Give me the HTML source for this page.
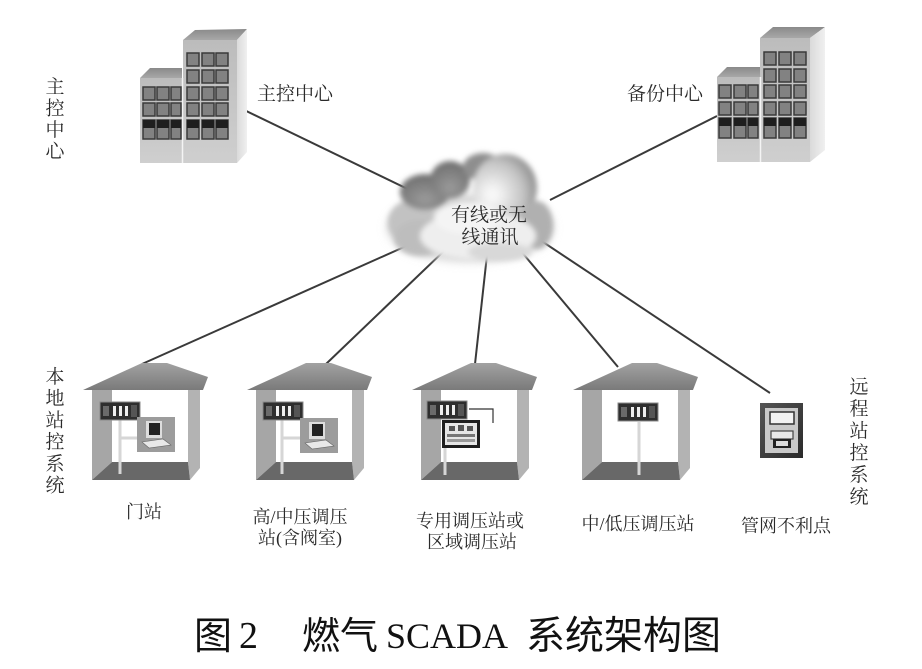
<!DOCTYPE html>
<html><head><meta charset="utf-8">
<style>
html,body{margin:0;padding:0;background:#fff;}
svg{display:block;}
.lb{font-family:"Liberation Serif","Noto Serif CJK SC",serif;font-size:18px;fill:#2a2a2a;}
.vl{font-family:"Liberation Serif","Noto Serif CJK SC",serif;font-size:19px;fill:#2a2a2a;}
</style></head><body>
<svg width="922" height="669" viewBox="0 0 922 669" xmlns="http://www.w3.org/2000/svg">
<defs>
 <filter id="blur" x="-30%" y="-30%" width="160%" height="160%"><feGaussianBlur stdDeviation="2.6"/></filter>
 <filter id="blur2" x="-30%" y="-30%" width="160%" height="160%"><feGaussianBlur stdDeviation="5"/></filter>
 <linearGradient id="roof" x1="0" y1="0" x2="0" y2="1"><stop offset="0" stop-color="#a2a2a2"/><stop offset="1" stop-color="#7a7a7a"/></linearGradient>
 <linearGradient id="broof" x1="0" y1="0" x2="0" y2="1"><stop offset="0" stop-color="#8a8a8a"/><stop offset="1" stop-color="#a8a8a8"/></linearGradient>
 <linearGradient id="face" x1="0" y1="0" x2="0" y2="1"><stop offset="0" stop-color="#bcbcbc"/><stop offset="1" stop-color="#cfcfcf"/></linearGradient>
 <linearGradient id="side" x1="0" y1="0" x2="1" y2="0"><stop offset="0" stop-color="#dadada"/><stop offset="1" stop-color="#f0f0f0"/></linearGradient>
 <radialGradient id="rlobe" cx="0.3" cy="0.6" r="0.8"><stop offset="0.1" stop-color="#f6f6f6"/><stop offset="0.6" stop-color="#c4c4c4"/><stop offset="1" stop-color="#7c7c7c"/></radialGradient>
 <radialGradient id="dlobe" cx="0.5" cy="0.7" r="0.7"><stop offset="0" stop-color="#9a9a9a"/><stop offset="1" stop-color="#6e6e6e"/></radialGradient>
 <linearGradient id="box" x1="0" y1="0" x2="1" y2="1"><stop offset="0" stop-color="#555"/><stop offset="1" stop-color="#2a2a2a"/></linearGradient>
 <g id="house">
   <polygon points="9,390 29,390 29,462 9,480" fill="#a6a6a6"/>
   <polygon points="105,390 117,390 117,468 107,480 105,462" fill="#b3b3b3"/>
   <polygon points="29,462 105,462 107,480 9,480" fill="#686868"/>
   <polygon points="0,390 59,363 84,363 125,377 120,390" fill="url(#roof)"/>
 </g>
 <g id="plc">
   <rect x="0" y="0" width="40" height="18" fill="#2e2e2e" stroke="#8a8a8a" stroke-width="1"/>
   <rect x="3" y="4" width="6" height="10" fill="#6a6a6a"/>
   <rect x="13" y="4" width="3" height="10" fill="#eee"/>
   <rect x="19" y="4" width="3" height="10" fill="#eee"/>
   <rect x="25" y="4" width="3" height="10" fill="#eee"/>
   <rect x="31" y="3" width="6" height="12" fill="#555"/>
 </g>
 <g id="pc">
   <rect x="0" y="0" width="38" height="35" fill="#9c9c9c"/>
   <rect x="9" y="4" width="16" height="17" fill="#ddd"/>
   <rect x="12" y="6" width="11" height="12" fill="#222"/>
   <polygon points="5,25 26,22 34,28 12,31" fill="#e8e8e8" stroke="#666" stroke-width="0.6"/>
 </g>
</defs>

<!-- connectors -->
<g stroke="#3a3a3a" stroke-width="2" fill="none">
  <line x1="238" y1="107" x2="420" y2="195"/>
  <line x1="717" y1="116" x2="550" y2="200"/>
  <line x1="413" y1="243" x2="142" y2="364"/>
  <line x1="445" y1="250" x2="326" y2="364"/>
  <line x1="487" y1="255" x2="475" y2="364"/>
  <line x1="520" y1="250" x2="618" y2="367"/>
  <line x1="540" y1="240" x2="770" y2="393"/>
</g>

<!-- cloud -->
<g filter="url(#blur2)">
  <ellipse cx="470" cy="228" rx="82" ry="33" fill="#cfcfcf"/>
</g>
<g filter="url(#blur)">
  <ellipse cx="412" cy="222" rx="24" ry="22" fill="#c2c2c2"/>
  <ellipse cx="425" cy="192" rx="25" ry="18" fill="url(#dlobe)"/>
  <ellipse cx="450" cy="180" rx="20" ry="19" fill="url(#dlobe)"/>
  <ellipse cx="483" cy="167" rx="20" ry="14" fill="#8e8e8e"/>
  <ellipse cx="505" cy="188" rx="32" ry="34" fill="url(#rlobe)"/>
  <ellipse cx="537" cy="225" rx="16" ry="24" fill="#b0b0b0"/>
  <ellipse cx="420" cy="238" rx="26" ry="18" fill="#bdbdbd"/>
  <ellipse cx="478" cy="236" rx="58" ry="24" fill="#eeeeee"/>
  <ellipse cx="468" cy="218" rx="34" ry="16" fill="#f4f4f4"/>
  <ellipse cx="500" cy="252" rx="32" ry="9" fill="#d8d8d8"/>
</g>
<text class="vl" x="489" y="221" text-anchor="middle">有线或无</text>
<text class="vl" x="490" y="243" text-anchor="middle">线通讯</text>

<!-- left main building -->
<g>
  <polygon points="140,78 150,68 182,68 182,78" fill="url(#broof)"/>
  <rect x="140" y="78" width="42" height="85" fill="url(#face)"/>
  <polygon points="183,40 195,30 247,29 237,40" fill="url(#broof)"/>
  <rect x="183" y="40" width="54" height="123" fill="url(#face)"/>
  <polygon points="237,40 247,29 247,152 237,163" fill="url(#side)"/>
  <line x1="182.5" y1="78" x2="182.5" y2="163" stroke="#f4f4f4" stroke-width="1.5"/>
  <g fill="#828282" stroke="#3a3a3a" stroke-width="1.5">
    <rect x="187" y="53" width="12" height="13"/><rect x="202" y="53" width="12" height="13"/><rect x="216" y="53" width="12" height="13"/>
    <rect x="187" y="70" width="12" height="13"/><rect x="202" y="70" width="12" height="13"/><rect x="216" y="70" width="12" height="13"/>
    <rect x="143" y="87" width="12" height="13"/><rect x="157" y="87" width="12" height="13"/><rect x="171" y="87" width="10" height="13"/>
    <rect x="187" y="87" width="12" height="13"/><rect x="202" y="87" width="12" height="13"/><rect x="216" y="87" width="12" height="13"/>
    <rect x="143" y="103" width="12" height="13"/><rect x="157" y="103" width="12" height="13"/><rect x="171" y="103" width="10" height="13"/>
    <rect x="187" y="103" width="12" height="13"/><rect x="202" y="103" width="12" height="13"/><rect x="216" y="103" width="12" height="13"/>
    <rect x="143" y="120" width="12" height="19"/><rect x="157" y="120" width="12" height="19"/><rect x="171" y="120" width="10" height="19"/>
    <rect x="187" y="120" width="12" height="19"/><rect x="202" y="120" width="12" height="19"/><rect x="216" y="120" width="12" height="19"/>
  </g>
  <g fill="#1e1e1e">
    <rect x="143" y="120" width="12" height="8"/><rect x="157" y="120" width="12" height="8"/><rect x="171" y="120" width="10" height="8"/>
    <rect x="187" y="120" width="12" height="8"/><rect x="202" y="120" width="12" height="8"/><rect x="216" y="120" width="12" height="8"/>
  </g>
</g>

<!-- right backup building -->
<g>
  <polygon points="717,77 727,67 760,67 760,77" fill="url(#broof)"/>
  <rect x="717" y="77" width="43" height="85" fill="url(#face)"/>
  <polygon points="760,38 773,27 825,27 810,38" fill="url(#broof)"/>
  <rect x="760" y="38" width="50" height="124" fill="url(#face)"/>
  <polygon points="810,38 825,27 825,150 810,162" fill="url(#side)"/>
  <line x1="760.5" y1="77" x2="760.5" y2="162" stroke="#f4f4f4" stroke-width="1.5"/>
  <g fill="#828282" stroke="#3a3a3a" stroke-width="1.5">
    <rect x="764" y="52" width="12" height="13"/><rect x="779" y="52" width="12" height="13"/><rect x="794" y="52" width="12" height="13"/>
    <rect x="764" y="69" width="12" height="13"/><rect x="779" y="69" width="12" height="13"/><rect x="794" y="69" width="12" height="13"/>
    <rect x="719" y="85" width="12" height="13"/><rect x="734" y="85" width="12" height="13"/><rect x="748" y="85" width="10" height="13"/>
    <rect x="764" y="85" width="12" height="13"/><rect x="779" y="85" width="12" height="13"/><rect x="794" y="85" width="12" height="13"/>
    <rect x="719" y="102" width="12" height="13"/><rect x="734" y="102" width="12" height="13"/><rect x="748" y="102" width="10" height="13"/>
    <rect x="764" y="102" width="12" height="13"/><rect x="779" y="102" width="12" height="13"/><rect x="794" y="102" width="12" height="13"/>
    <rect x="719" y="118" width="12" height="20"/><rect x="734" y="118" width="12" height="20"/><rect x="748" y="118" width="10" height="20"/>
    <rect x="764" y="118" width="12" height="20"/><rect x="779" y="118" width="12" height="20"/><rect x="794" y="118" width="12" height="20"/>
  </g>
  <g fill="#1e1e1e">
    <rect x="719" y="118" width="12" height="8"/><rect x="734" y="118" width="12" height="8"/><rect x="748" y="118" width="10" height="8"/>
    <rect x="764" y="118" width="12" height="8"/><rect x="779" y="118" width="12" height="8"/><rect x="794" y="118" width="12" height="8"/>
  </g>
</g>

<!-- houses -->
<use href="#house" x="83"/>
<use href="#house" x="247"/>
<use href="#house" x="412"/>
<use href="#house" x="573"/>

<!-- house 1 contents -->
<line x1="120" y1="420" x2="120" y2="474" stroke="#d6d6d6" stroke-width="3"/>
<line x1="120" y1="438" x2="137" y2="438" stroke="#d6d6d6" stroke-width="3"/>
<use href="#plc" x="100" y="402"/>
<use href="#pc" x="137" y="417"/>

<!-- house 2 contents -->
<line x1="282" y1="420" x2="282" y2="474" stroke="#d6d6d6" stroke-width="3"/>
<line x1="282" y1="438" x2="300" y2="438" stroke="#d6d6d6" stroke-width="3"/>
<use href="#plc" x="263" y="402"/>
<use href="#pc" x="300" y="418"/>

<!-- house 3 contents -->
<line x1="445" y1="446" x2="445" y2="475" stroke="#d6d6d6" stroke-width="3"/>
<polyline points="469,409 493,409 493,423" fill="none" stroke="#333" stroke-width="1.2"/>
<use href="#plc" x="427" y="401"/>
<rect x="442" y="420" width="38" height="28" fill="#1e1e1e"/>
<rect x="445" y="423" width="32" height="22" fill="#e6e6e6"/>
<rect x="449" y="426" width="6" height="5" fill="#555"/>
<rect x="458" y="425" width="6" height="6" fill="#555"/>
<rect x="467" y="426" width="6" height="5" fill="#555"/>
<rect x="447" y="434" width="28" height="3" fill="#777"/>
<rect x="447" y="439" width="28" height="3" fill="#999"/>

<!-- house 4 contents -->
<line x1="639" y1="422" x2="639" y2="475" stroke="#d6d6d6" stroke-width="3"/>
<use href="#plc" x="618" y="403"/>

<!-- remote box -->
<rect x="760" y="403" width="43" height="55" fill="url(#box)"/>
<rect x="765" y="408" width="33" height="45" fill="#c9c9c9"/>
<rect x="770" y="412" width="24" height="12" fill="#f2f2f2" stroke="#333" stroke-width="1.5"/>
<rect x="771" y="431" width="22" height="8" fill="#e8e8e8" stroke="#444" stroke-width="1.2"/>
<rect x="773" y="439" width="18" height="9" fill="#222"/>
<rect x="776" y="441" width="12" height="5" fill="#ddd"/>

<!-- labels top -->
<text class="vl" x="257" y="100">主控中心</text>
<text class="vl" x="627" y="100">备份中心</text>

<!-- vertical labels -->
<g class="vl" text-anchor="middle">
  <text x="55" y="93">主</text><text x="55" y="114.5">控</text><text x="55" y="136">中</text><text x="55" y="157.5">心</text>
  <text x="55" y="383">本</text><text x="55" y="404.7">地</text><text x="55" y="426.4">站</text><text x="55" y="448">控</text><text x="55" y="469.8">系</text><text x="55" y="491.5">统</text>
  <text x="859" y="393">远</text><text x="859" y="415">程</text><text x="859" y="437">站</text><text x="859" y="459">控</text><text x="859" y="481">系</text><text x="859" y="503">统</text>
</g>

<!-- bottom labels -->
<g class="lb" text-anchor="middle">
  <text x="144" y="518">门站</text>
  <text x="300" y="523">高/中压调压</text>
  <text x="300" y="544">站(含阀室)</text>
  <text x="470" y="527">专用调压站或</text>
  <text x="472" y="548">区域调压站</text>
  <text x="638" y="530">中/低压调压站</text>
  <text x="786" y="532">管网不利点</text>
</g>

<!-- title -->
<g fill="#111">
  <text x="194" y="649" font-family="'Liberation Sans','Noto Sans CJK SC',sans-serif" font-size="38">图</text>
  <text x="239" y="648" font-family="'Liberation Serif',serif" font-size="38">2</text>
  <text x="302" y="649" font-family="'Liberation Sans','Noto Sans CJK SC',sans-serif" font-size="38">燃气</text>
  <text x="386" y="648" font-family="'Liberation Serif',serif" font-size="36">SCADA</text>
  <text x="526" y="649" font-family="'Liberation Sans','Noto Sans CJK SC',sans-serif" font-size="39">系统架构图</text>
</g>
</svg>
</body></html>
